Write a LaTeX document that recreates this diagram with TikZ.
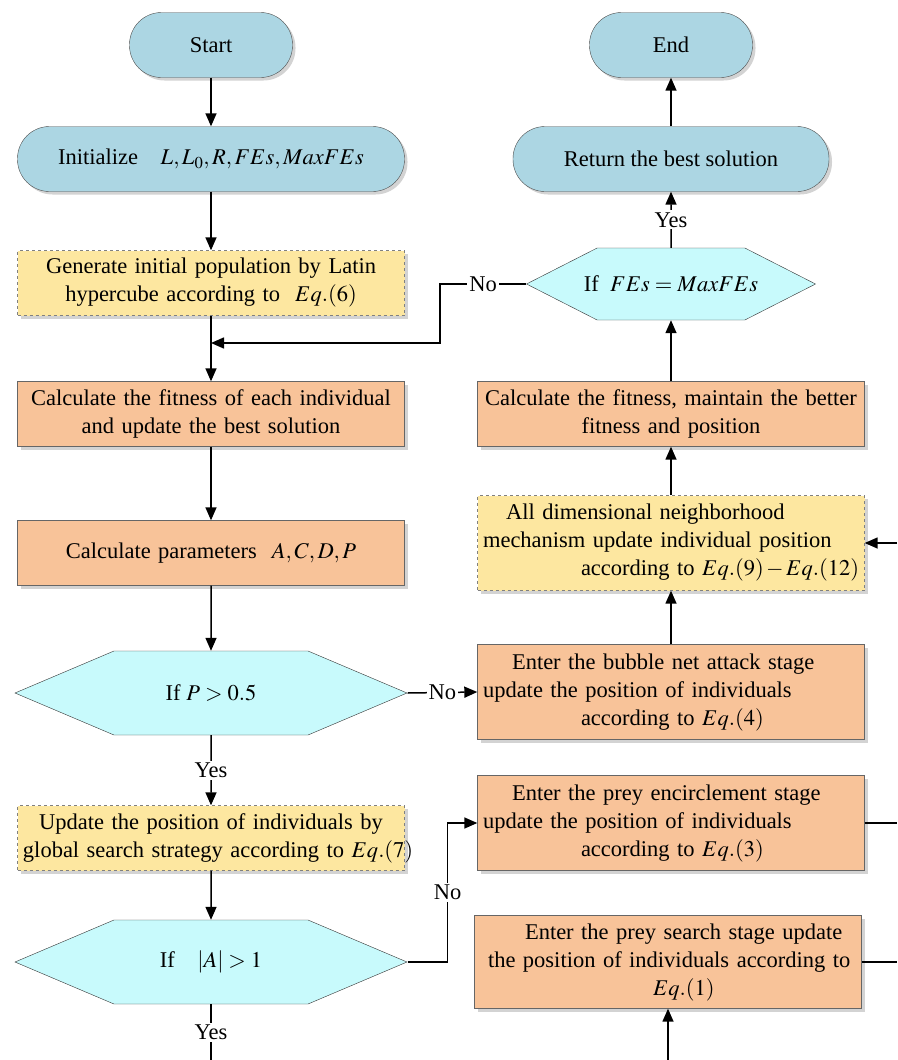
\documentclass[tikz,border=0pt]{standalone}
\usepackage{mathptmx}
\usepackage{fontspec}
\setmainfont{Liberation Serif}
\usepackage{tikz}
\usetikzlibrary{shapes.symbols,shadows,arrows.meta}

\definecolor{termblue}{RGB}{172,214,227}
\definecolor{hexcyan}{RGB}{200,250,252}
\definecolor{procorange}{RGB}{248,195,153}
\definecolor{newyellow}{RGB}{253,231,160}

\tikzset{
  term/.style={rectangle, rounded corners=32pt, draw=black!70, fill=termblue,
    minimum height=65, drop shadow={shadow xshift=3pt, shadow yshift=-3pt, opacity=.35}},
  proc/.style={rectangle, draw=black!60, fill=procorange, minimum width=387,
    minimum height=65, text width=376, inner xsep=5pt, align=center,
    drop shadow={shadow xshift=3pt, shadow yshift=-3pt, opacity=.35}},
  newproc/.style={proc, fill=newyellow, draw=black!50, dashed},
  decide/.style={shape=signal, signal to=east and west, signal pointer angle=46,
    draw=black!80, fill=hexcyan, minimum width=392, minimum height=84, inner sep=0pt},
  arr/.style={-{Triangle[length=13pt,width=11pt]}, line width=1.5pt},
  lbl/.style={fill=white, inner sep=2pt}
}

\begin{document}
\begin{tikzpicture}[x=1pt,y=-1pt,font=\fontsize{22.5}{28}\selectfont]
\useasboundingbox (0,0) rectangle (897,1060);
% left column
\node[term,minimum width=163] (start) at (211,45) {Start};
\node[term,minimum width=387] (init) at (211,159) {Initialize\quad $L, L_0, R, FEs, MaxFEs$};
\node[newproc] (gen) at (211,283) {Generate initial population by Latin\\hypercube according to\ \ $Eq.(6)$};
\node[proc] (fit) at (211,414) {Calculate the fitness of each individual\\and update the best solution};
\node[proc] (par) at (211,553) {Calculate parameters\ \ $A, C, D, P$};
\node[decide] (ifp) at (211,693) {If $P>0.5$};
\node[newproc] (glob) at (211,838) {Update the position of individuals by\\\mbox{global search strategy according to $Eq.(7)$}};
\node[decide] (ifa) at (211,962) {If\quad $|A|>1$};
% right column
\node[term,minimum width=163] (end) at (671,45) {End};
\node[term,minimum width=316] (ret) at (671,159) {Return the best solution};
\node[decide,minimum width=289,minimum height=72,signal pointer angle=54,inner xsep=-30pt] (iffe) at (671,284) {If\ \ $FEs = MaxFEs$};
\node[proc] (keep) at (671,414) {Calculate the fitness, maintain the better\\fitness and position};
\node[newproc,minimum height=95,align=left] (adn) at (671,543) {\hspace*{23pt}All dimensional neighborhood\\mechanism update individual position\\\hspace*{98pt}according to $Eq.(9)-Eq.(12)$};
\node[proc,minimum height=95,align=left] (bub) at (671,692) {\hspace*{29pt}Enter the bubble net attack stage\\update the position of individuals\\\hspace*{98pt}according to $Eq.(4)$};
\node[proc,minimum height=95,align=left] (enc) at (671,823) {\hspace*{29pt}Enter the prey encirclement stage\\update the position of individuals\\\hspace*{98pt}according to $Eq.(3)$};
\node[proc,minimum height=93,align=left] (srch) at (668,962) {\hspace*{45pt}Enter the prey search stage update\\\hspace*{8pt}the position of individuals according to\\\hspace*{173pt}$Eq.(1)$};
% loose ends
\coordinate (merge) at (211,343);
\coordinate (rin) at (897,543);
\coordinate (rout1) at (897,823);
\coordinate (rout2) at (897,962);
\coordinate (bin) at (668,1060);
\coordinate (bout) at (211,1060);
% connectors
\draw[arr] (start) -- (init);
\draw[arr] (init) -- (gen);
\draw[arr] (gen) -- (fit);
\draw[arr] (fit) -- (par);
\draw[arr] (par) -- (ifp);
\draw[arr] (ifp) -- node[lbl]{Yes} (glob);
\draw[arr] (glob) -- (ifa);
\draw[line width=1.5pt] (ifa) -- node[lbl]{Yes} (bout);
\draw[arr] (ifp.east) -- node[lbl]{No} (bub.west);
\draw[arr] (ifa.east) -- ++(40,0) |- node[lbl,pos=.25]{No} (enc.west);
\draw[arr] (bub) -- (adn);
\draw[arr] (adn) -- (keep);
\draw[arr] (keep) -- (iffe);
\draw[arr] (iffe) -- node[lbl]{Yes} (ret);
\draw[arr] (ret) -- (end);
\draw[arr] (iffe.west) -- node[lbl]{No} ++(-86,0) |- (merge);
\draw[arr] (rin) -- (adn.east);
\draw[line width=1.5pt] (enc.east) -- (rout1);
\draw[line width=1.5pt] (srch.east) -- (rout2);
\draw[arr] (bin) -- (srch);
\end{tikzpicture}
\end{document}
